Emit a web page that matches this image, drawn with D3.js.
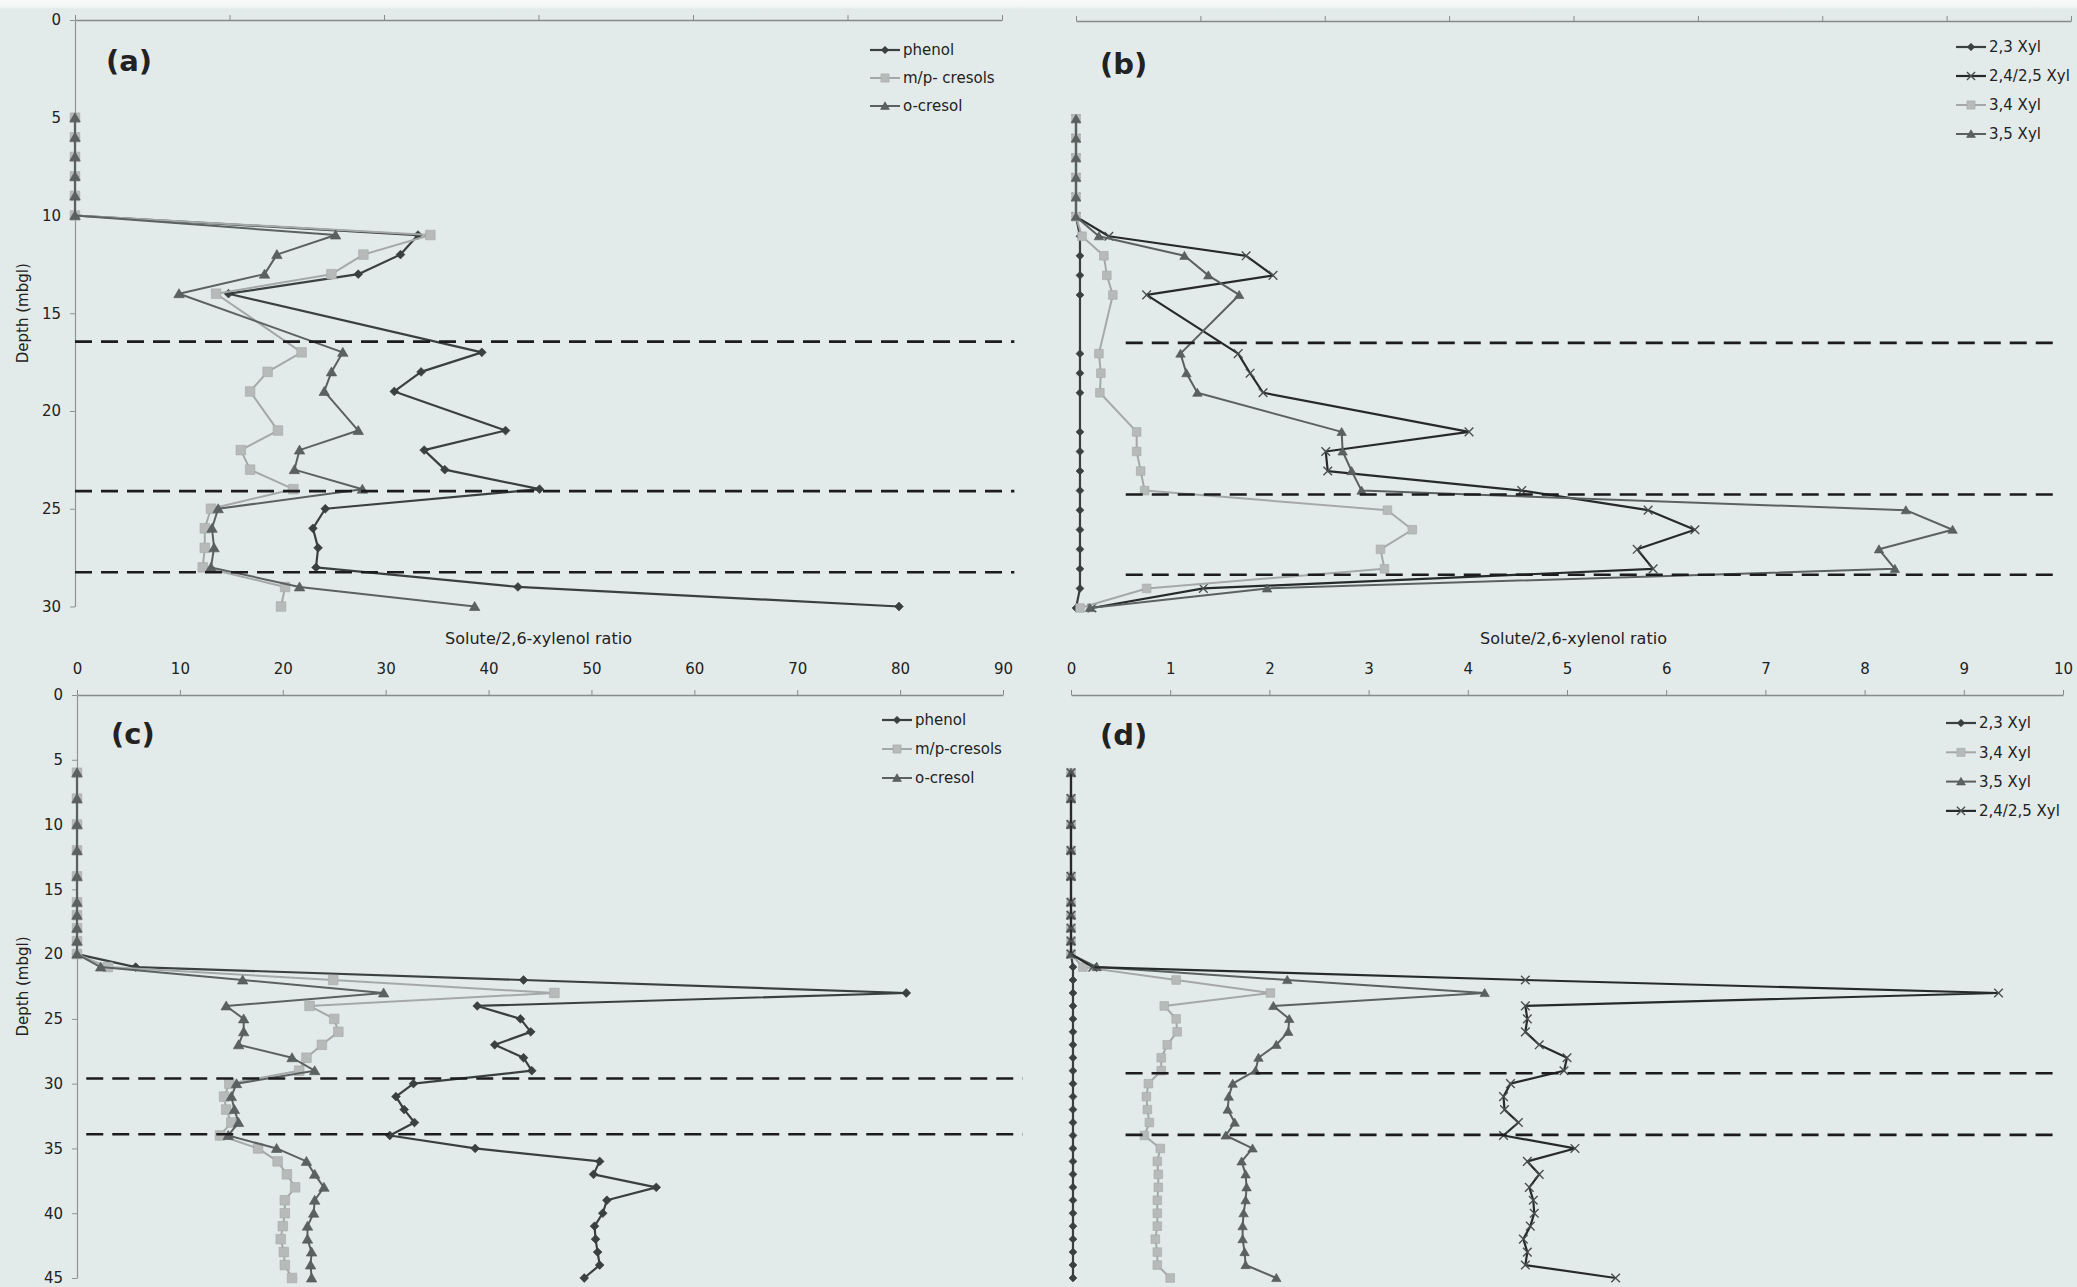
<!DOCTYPE html>
<html>
<head>
<meta charset="utf-8">
<script src="https://cdn.jsdelivr.net/npm/d3@7"></script>
<style>
  html, body { margin: 0; padding: 0; background: #e3ebea; }
  svg { display: block; }
  text { font-family: "DejaVu Sans", Verdana, sans-serif; fill: #222; }
</style>
</head>
<body>
<svg id="fig" width="2077" height="1287"></svg>
<script>
// ---- depth sampling (m below ground level) ----
const depthUpper = [5,6,7,8,9,10,11,12,13,14,17,18,19,21,22,23,24,25,26,27,28,29,30];
const depthLower = [6,8,10,12,14,16,17,18,19,20,21,22,23,24,25,26,27,28,29,30,31,32,33,34,35,36,37,38,39,40,41,42,43,44,45];

// ---- (a) phenol & cresols / 2,6-xylenol ----
const phenolA   = [0,0,0,0,0,0, 33.3,31.6,27.5,14.9, 39.5,33.6,31.0, 41.8,33.9,35.9,45.1, 24.3,23.1,23.6,23.4, 43.0,80.0];
const mpCresolA = [0,0,0,0,0,0, 34.5,28.0,24.9,13.7, 22.0,18.7,17.0, 19.7,16.1,17.0,21.2, 13.2,12.6,12.6,12.4, 20.4,20.0];
const oCresolA  = [0,0,0,0,0,0, 25.3,19.6,18.4,10.1, 26.0,24.9,24.2, 27.5,21.8,21.3,27.9, 13.9,13.3,13.5,13.2, 21.8,38.8];

// ---- (b) xylenols / 2,6-xylenol ----
const xyl23B   = [0,0,0,0,0,0, 0.04,0.04,0.04,0.04, 0.04,0.04,0.04, 0.04,0.04,0.04,0.04, 0.04,0.04,0.04,0.04, 0.04,0];
const xyl2425B = [0,0,0,0,0,0, 0.33,1.71,1.98,0.71, 1.63,1.75,1.88, 3.95,2.51,2.53,4.48, 5.75,6.22,5.64,5.80, 1.28,0.16];
const xyl34B   = [0,0,0,0,0,0, 0.06,0.28,0.31,0.37, 0.23,0.25,0.24, 0.61,0.61,0.65,0.69, 3.13,3.38,3.06,3.10, 0.71,0.04];
const xyl35B   = [0,0,0,0,0,0, 0.23,1.09,1.33,1.64, 1.05,1.11,1.22, 2.67,2.68,2.77,2.87, 8.34,8.81,8.07,8.23, 1.92,0.14];

// ---- (c) phenol & cresols / 2,6-xylenol ----
const phenolC   = [0,0,0,0,0,0,0,0,0,0, 5.7,43.4,80.6,38.9,43.1,44.1,40.6,43.4,44.2, 32.7,31.0,31.8,32.8,30.4, 38.7,50.8,50.2,56.3,51.5,51.1,50.3,50.4,50.6,50.8,49.3];
const mpCresolC = [0,0,0,0,0,0,0,0,0,0, 3.0,24.9,46.4,22.6,25.0,25.4,23.8,22.3,21.6, 14.8,14.3,14.5,15.0,13.9, 17.6,19.5,20.4,21.2,20.2,20.2,20.0,19.8,20.1,20.2,20.9];
const oCresolC  = [0,0,0,0,0,0,0,0,0,0, 2.3,16.1,29.8,14.5,16.2,16.2,15.7,20.9,23.1, 15.5,15.0,15.3,15.7,14.7, 19.4,22.3,23.1,24.0,23.1,23.0,22.4,22.4,22.8,22.7,22.8];

// ---- (d) xylenols / 2,6-xylenol ----
const xyl23D   = [0,0,0,0,0,0,0,0,0,0, 0.02,0.02,0.02,0.02,0.02,0.02,0.02,0.02,0.02, 0.02,0.02,0.02,0.02,0.02, 0.02,0.02,0.02,0.02,0.02,0.02,0.02,0.02,0.02,0.02,0.02];
const xyl34D   = [0,0,0,0,0,0,0,0,0,0, 0.12,1.06,2.01,0.94,1.06,1.07,0.97,0.91,0.91, 0.78,0.76,0.77,0.79,0.74, 0.90,0.87,0.88,0.88,0.87,0.87,0.87,0.85,0.87,0.87,1.00];
const xyl35D   = [0,0,0,0,0,0,0,0,0,0, 0.26,2.18,4.17,2.04,2.20,2.19,2.07,1.89,1.86, 1.63,1.59,1.58,1.65,1.56, 1.83,1.72,1.76,1.77,1.76,1.74,1.73,1.73,1.75,1.76,2.07];
const xyl2425D = [0,0,0,0,0,0,0,0,0,0, 0.22,4.58,9.35,4.58,4.60,4.58,4.72,5.00,4.97, 4.43,4.36,4.37,4.51,4.36, 5.08,4.60,4.72,4.62,4.66,4.67,4.63,4.56,4.60,4.58,5.49];

// ---- zone boundaries (dashed) ----
const boundsA = [16.45, 24.1, 28.25];
const boundsB = [16.45, 24.2, 28.3];
const boundsC = [29.6, 33.9];
const boundsD = [29.2, 33.95];

// ---- axis ticks ----
const ticksRatioWide   = [0,15,30,45,60,75,90];
const ticksRatioTen    = [0,10,20,30,40,50,60,70,80,90];
const ticksXylFine     = [0,1.25,2.5,3.75,5,6.25,7.5,8.75,10];
const ticksXylUnit     = [0,1,2,3,4,5,6,7,8,9,10];
const ticksDepthUpper  = [0,5,10,15,20,25,30];
const ticksDepthLower  = [0,5,10,15,20,25,30,35,40,45];

// ---- series styles ----
const STY = {
  dark:  { line: "#3a403f", width: 2.2, marker: "diamond",  size: 4.4, fill: "#3a403f" },
  light: { line: "#a4a9a8", width: 2.0, marker: "square",   size: 4.8, fill: "#b6bab9" },
  mid:   { line: "#5b6160", width: 2.0, marker: "triangle", size: 5.0, fill: "#5b6160" },
  cross: { line: "#262a2a", width: 2.2, marker: "cross",    size: 4.8, fill: "none"    }
};

const markerPath = {
  diamond:  s => `M0,${-s}L${s},0L0,${s}L${-s},0Z`,
  square:   s => `M${-s},${-s}H${s}V${s}H${-s}Z`,
  triangle: s => `M0,${-s}L${s * 1.05},${s * 0.8}L${-s * 1.05},${s * 0.8}Z`,
  cross:    s => `M${-s},${-s}L${s},${s}M${-s},${s}L${s},${-s}`
};

const svg = d3.select("#fig");

// paper tone with a pale strip along the top edge
const grad = svg.append("defs").append("linearGradient")
  .attr("id", "topfade").attr("x1", 0).attr("x2", 0).attr("y1", 0).attr("y2", 1);
grad.append("stop").attr("offset", "0%").attr("stop-color", "#f8faf9");
grad.append("stop").attr("offset", "70%").attr("stop-color", "#f3f7f6");
grad.append("stop").attr("offset", "100%").attr("stop-color", "#e3ebea");
svg.append("rect").attr("width", 2077).attr("height", 1287).attr("fill", "#e3ebea");
svg.append("rect").attr("width", 2077).attr("height", 9).attr("fill", "url(#topfade)");

function drawMarker(g, type, s, st, cx, cy) {
  const p = g.append("path")
    .attr("d", markerPath[type](s))
    .attr("transform", `translate(${cx},${cy})`);
  if (type === "cross") {
    p.attr("fill", "none").attr("stroke", "#4a504f").attr("stroke-width", 1.4);
  } else {
    p.attr("fill", st.fill).attr("stroke", d3.color(st.fill).darker(0.3)).attr("stroke-width", 0.6);
  }
}

function panel(cfg) {
  const g = svg.append("g");
  const x = d3.scaleLinear().domain(cfg.xDomain).range(cfg.xRange);
  const y = d3.scaleLinear().domain(cfg.yDomain).range(cfg.yRange);

  // top (value) axis
  const top = d3.axisTop(x)
    .tickValues(cfg.topTicks)
    .tickSizeInner(5).tickSizeOuter(0).tickPadding(16)
    .tickFormat(cfg.topLabels ? d3.format("d") : () => "");
  const tg = g.append("g").attr("transform", `translate(0,${y(0)})`).call(top);
  tg.select(".domain").attr("stroke", "#858b8a").attr("stroke-width", 1.3);
  tg.selectAll(".tick line").attr("stroke", "#858b8a").attr("stroke-width", 1);
  tg.selectAll(".tick text").attr("font-size", 15).attr("fill", "#2a2a2a")
    .attr("font-family", "DejaVu Sans, Verdana, sans-serif");

  // depth axis
  if (cfg.leftAxis) {
    const left = d3.axisLeft(y)
      .tickValues(cfg.leftTicks)
      .tickSizeInner(5).tickSizeOuter(0).tickPadding(9);
    const lg = g.append("g").attr("transform", `translate(${x(0)},0)`).call(left);
    lg.select(".domain").attr("stroke", "#8e9493").attr("stroke-width", 1.2);
    lg.selectAll(".tick line").attr("stroke", "#8e9493");
    lg.selectAll(".tick text").attr("font-size", 15).attr("fill", "#2a2a2a")
      .attr("font-family", "DejaVu Sans, Verdana, sans-serif");
    g.append("text")
      .attr("transform", `translate(28,${(y.range()[0] + y.range()[1]) / 2}) rotate(-90)`)
      .attr("text-anchor", "middle").attr("font-size", 15)
      .text("Depth (mbgl)");
  }

  // series lines and markers
  const line = d3.line().x(p => x(p.v)).y(p => y(p.d));
  cfg.series.forEach(s => {
    const pts = cfg.depth.map((d, i) => ({ d, v: s.values[i] }));
    const st = STY[s.style];
    g.append("path").datum(pts)
      .attr("d", line)
      .attr("fill", "none")
      .attr("stroke", st.line)
      .attr("stroke-width", st.width)
      .attr("stroke-linejoin", "round");
    const mg = g.append("g");
    pts.forEach(p => drawMarker(mg, st.marker, st.size * cfg.markerScale, st, x(p.v), y(p.d)));
  });

  // zone boundaries
  cfg.bounds.forEach(b => {
    g.append("line")
      .attr("x1", x(cfg.dashX[0])).attr("x2", x(cfg.dashX[1]))
      .attr("y1", y(b)).attr("y2", y(b))
      .attr("stroke", "#1c1c1c").attr("stroke-width", 2.6)
      .attr("stroke-dasharray", "17,9");
  });

  // legend
  cfg.series.forEach((s, i) => {
    const st = STY[s.style];
    const ly = cfg.legend.y + i * cfg.legend.step;
    const lx = cfg.legend.x;
    g.append("line").attr("x1", lx).attr("x2", lx + 30).attr("y1", ly).attr("y2", ly)
      .attr("stroke", st.line).attr("stroke-width", st.width);
    drawMarker(g, st.marker, st.size * 0.85, st, lx + 15, ly);
    g.append("text").attr("x", lx + 33).attr("y", ly).attr("dy", "0.35em")
      .attr("font-size", 15).text(s.name);
  });

  // panel letter
  g.append("text").attr("x", cfg.letter.x).attr("y", cfg.letter.y)
    .attr("font-size", 29).attr("font-weight", "bold").attr("fill", "#1a1a1a")
    .text(cfg.letter.t);

  // value axis title
  if (cfg.xTitle) {
    g.append("text")
      .attr("x", (x.range()[0] + x.range()[1]) / 2).attr("y", cfg.xTitleY)
      .attr("text-anchor", "middle").attr("font-size", 16)
      .text(cfg.xTitle);
  }
}

panel({
  xDomain: [0, 90], xRange: [75, 1002],
  yDomain: [0, 30], yRange: [20, 606.5],
  topTicks: ticksRatioWide, topLabels: false,
  leftAxis: true, leftTicks: ticksDepthUpper,
  depth: depthUpper, markerScale: 1,
  series: [
    { name: "phenol",       values: phenolA,   style: "dark"  },
    { name: "m/p- cresols", values: mpCresolA, style: "light" },
    { name: "o-cresol",     values: oCresolA,  style: "mid"   }
  ],
  bounds: boundsA, dashX: [0, 91.2],
  legend: { x: 870, y: 50, step: 28 },
  letter: { t: "(a)", x: 106, y: 71 },
  xTitle: "Solute/2,6-xylenol ratio", xTitleY: 644
});

panel({
  xDomain: [0, 10], xRange: [1076, 2071],
  yDomain: [0, 30], yRange: [21, 608],
  topTicks: ticksXylFine, topLabels: false,
  leftAxis: false,
  depth: depthUpper, markerScale: 0.9,
  series: [
    { name: "2,3 Xyl",     values: xyl23B,   style: "dark"  },
    { name: "2,4/2,5 Xyl", values: xyl2425B, style: "cross" },
    { name: "3,4 Xyl",     values: xyl34B,   style: "light" },
    { name: "3,5 Xyl",     values: xyl35B,   style: "mid"   }
  ],
  bounds: boundsB, dashX: [0.5, 9.9],
  legend: { x: 1956, y: 47, step: 29 },
  letter: { t: "(b)", x: 1100, y: 74 },
  xTitle: "Solute/2,6-xylenol ratio", xTitleY: 644
});

panel({
  xDomain: [0, 90], xRange: [77, 1003],
  yDomain: [0, 45], yRange: [695, 1278],
  topTicks: ticksRatioTen, topLabels: true,
  leftAxis: true, leftTicks: ticksDepthLower,
  depth: depthLower, markerScale: 1,
  series: [
    { name: "phenol",      values: phenolC,   style: "dark"  },
    { name: "m/p-cresols", values: mpCresolC, style: "light" },
    { name: "o-cresol",    values: oCresolC,  style: "mid"   }
  ],
  bounds: boundsC, dashX: [0.9, 91.9],
  legend: { x: 882, y: 720, step: 29 },
  letter: { t: "(c)", x: 111, y: 744 },
  xTitle: null
});

panel({
  xDomain: [0, 10], xRange: [1071, 2063],
  yDomain: [0, 45], yRange: [695, 1278],
  topTicks: ticksXylUnit, topLabels: true,
  leftAxis: false,
  depth: depthLower, markerScale: 0.9,
  series: [
    { name: "2,3 Xyl",     values: xyl23D,   style: "dark"  },
    { name: "3,4 Xyl",     values: xyl34D,   style: "light" },
    { name: "3,5 Xyl",     values: xyl35D,   style: "mid"   },
    { name: "2,4/2,5 Xyl", values: xyl2425D, style: "cross" }
  ],
  bounds: boundsD, dashX: [0.55, 9.92],
  legend: { x: 1946, y: 723, step: 29.3 },
  letter: { t: "(d)", x: 1100, y: 745 },
  xTitle: null
});
</script>
</body>
</html>
